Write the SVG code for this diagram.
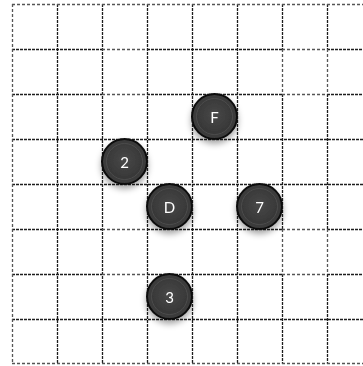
<svg xmlns="http://www.w3.org/2000/svg" width="363" height="366" viewBox="0 0 363 366">
  <style>
    .dk { stroke: #1e1e1e; stroke-width: 1.3; stroke-dasharray: 3 1; fill: none; }
    .lt { stroke: #555; stroke-width: 1.3; stroke-dasharray: 3 2; fill: none; }
    .disc { fill: #3a3a3a; stroke: #0a0a0a; stroke-width: 2; }
    .inner { fill: url(#ig); stroke: #4c4c4c; stroke-width: 1; }
    .lbl { fill: #fff; font-family: Lato, "Open Sans", "DejaVu Sans", sans-serif; font-size: 15px; text-anchor: middle; dominant-baseline: central; }
  </style>
  <defs>
    <radialGradient id="ig" cx="50%" cy="45%" r="55%">
      <stop offset="0" stop-color="#494949"/>
      <stop offset="1" stop-color="#363636"/>
    </radialGradient>
    <filter id="sh" x="-40%" y="-40%" width="180%" height="190%">
      <feDropShadow dx="0" dy="4" stdDeviation="3" flood-color="#000" flood-opacity="0.35"/>
    </filter>
  </defs>
  <g id="grid">
    <g class="dk">
      <path d="M12 49.5H102M147 49.5H282M327 49.5H363"/>
      <path d="M12 94.5H102M147 94.5H282M327 94.5H363"/>
      <path d="M12 139.5H363"/>
      <path d="M12 184.5H363"/>
      <path d="M12 229.5H102M147 229.5H282M327 229.5H363"/>
      <path d="M12 274.5H102M147 274.5H282M327 274.5H363"/>
      <path d="M12 319.5H363"/>
      <path d="M57.5 4V364"/>
      <path d="M102.5 4V364"/>
      <path d="M147.5 4V364"/>
      <path d="M192.5 4V364"/>
      <path d="M237.5 4V364"/>
      <path d="M282.5 4V49M282.5 94V229M282.5 274V364"/>
      <path d="M327.5 4V49M327.5 94V229M327.5 274V364"/>
    </g>
    <g class="lt">
      <path d="M12 4.5H363"/>
      <path d="M12.5 4V364"/>
      <path d="M12 363.5H363"/>
      <path d="M102 49.5H147M102 94.5H147"/>
      <path d="M282 49.5H327M282 94.5H327M282.5 49V94M327.5 49V94"/>
      <path d="M102 229.5H147M102 274.5H147"/>
      <path d="M282 229.5H327M282 274.5H327M282.5 229V274M327.5 229V274"/>
    </g>
  </g>
  <g id="node-F" filter="url(#sh)">
    <circle class="disc" cx="214.5" cy="116.5" r="22.5"/>
    <circle class="inner" cx="214.5" cy="116.5" r="18"/>
    <text class="lbl" x="214.5" y="116.5">F</text>
  </g>
  <g id="node-2" filter="url(#sh)">
    <circle class="disc" cx="124.5" cy="161.5" r="22.5"/>
    <circle class="inner" cx="124.5" cy="161.5" r="18"/>
    <text class="lbl" x="124.5" y="161.5">2</text>
  </g>
  <g id="node-D" filter="url(#sh)">
    <circle class="disc" cx="169.5" cy="206.5" r="22.5"/>
    <circle class="inner" cx="169.5" cy="206.5" r="18"/>
    <text class="lbl" x="169.5" y="206.5">D</text>
  </g>
  <g id="node-7" filter="url(#sh)">
    <circle class="disc" cx="259.5" cy="206.5" r="22.5"/>
    <circle class="inner" cx="259.5" cy="206.5" r="18"/>
    <text class="lbl" x="259.5" y="206.5">7</text>
  </g>
  <g id="node-3" filter="url(#sh)">
    <circle class="disc" cx="169.5" cy="296.5" r="22.5"/>
    <circle class="inner" cx="169.5" cy="296.5" r="18"/>
    <text class="lbl" x="169.5" y="296.5">3</text>
  </g>
</svg>
